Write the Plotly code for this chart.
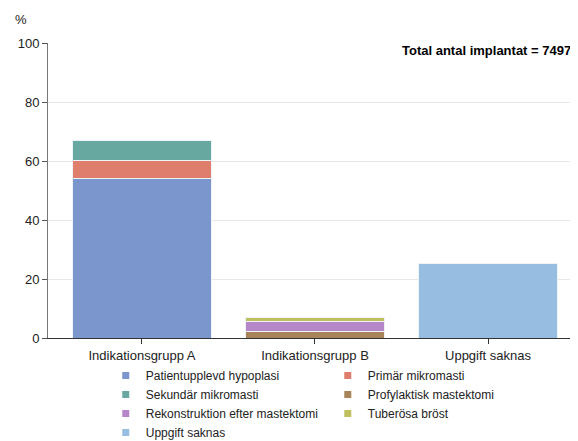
import plotly.graph_objects as go

categories = ['Indikationsgrupp A', 'Indikationsgrupp B', 'Uppgift saknas']

series_names = ['Patientupplevd hypoplasi', 'Primär mikromasti', 'Sekundär mikromasti',
                'Profylaktisk mastektomi', 'Rekonstruktion efter mastektomi',
                'Tuberösa bröst', 'Uppgift saknas']

hypoplasi = [54.2, None, None]
primar = [6.1, None, None]
sekundar = [6.8, None, None]
profylaktisk = [None, 2.3, None]
rekonstruktion = [None, 3.3, None]
tuberosa = [None, 1.3, None]
uppgift = [None, None, 25.3]

colors = ['#7b96cc', '#e07e6e', '#67a8a0', '#a8845a', '#b586c8', '#bfbf5f', '#97bde0']

total_text = 'Total antal implantat = 7497'

values = [hypoplasi, primar, sekundar, profylaktisk, rekonstruktion, tuberosa, uppgift]

fig = go.Figure()
for name, vals, col in zip(series_names, values, colors):
    fig.add_trace(go.Bar(x=categories, y=vals, name=name, marker_color=col,
                         marker_line=dict(color='#eef3f7', width=1),
                         legendgroup=name, showlegend=False))
    # legend entry with small square symbol
    fig.add_trace(go.Scatter(x=[None], y=[None], mode='markers', name=name,
                             legendgroup=name,
                             marker=dict(symbol='square', size=7, color=col)))

# page body has an 8px margin, so the figure is 8px smaller each way
fig.update_layout(
    width=570, height=433,
    barmode='stack', bargap=0.2,
    plot_bgcolor='white', paper_bgcolor='white',
    margin=dict(l=40, r=0, t=35, b=103, autoexpand=False),
    font=dict(family='Liberation Sans, Arial, sans-serif', size=13, color='#333'),
    xaxis=dict(range=[-0.543, 2.52], showline=True, linecolor='#333', linewidth=1,
               ticks='outside', ticklen=5, tickcolor='#333', showgrid=False,
               tickfont=dict(size=13, color='#222')),
    yaxis=dict(range=[0, 100], showline=True, linecolor='#777', linewidth=1,
               ticks='outside', ticklen=5, tickcolor='#555', dtick=20,
               showgrid=True, gridcolor='#e8e8e8', zeroline=False,
               tickfont=dict(size=13, color='#222')),
    legend=dict(orientation='h', x=0.109, xanchor='left', y=-0.078, yanchor='top',
                entrywidth=177, itemwidth=30, tracegroupgap=0,
                font=dict(size=12, color='#222'), bgcolor='rgba(0,0,0,0)'),
    showlegend=True,
)

fig.add_annotation(text='%', xref='paper', yref='paper', x=-0.066, y=1.081,
                   xanchor='left', yanchor='middle', showarrow=False,
                   font=dict(size=13, color='#222'))
fig.add_annotation(text='<b>' + total_text + '</b>', xref='paper', yref='paper',
                   x=0.9906, y=0.976, xanchor='right', yanchor='middle', showarrow=False,
                   font=dict(size=13, color='#000'))

fig.write_html('out.html')
